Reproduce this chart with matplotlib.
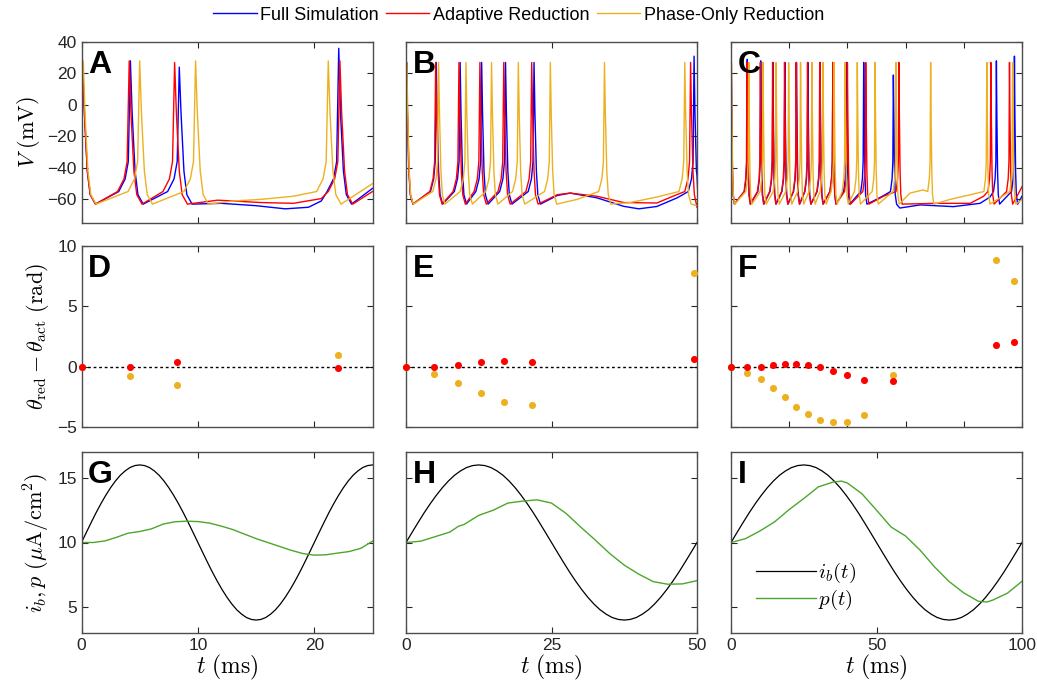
import numpy as np
import matplotlib
matplotlib.use("Agg")
import matplotlib.pyplot as plt
from matplotlib.lines import Line2D

plt.rcParams['font.family'] = ['Liberation Sans', 'DejaVu Sans']
plt.rcParams['mathtext.fontset'] = 'cm'

# ---------------- data ----------------
t_end = [25, 50, 100]

# voltage traces: spike times (ms), spike peaks (mV), extra baseline knots (t, V)
a_full_spk = [0.1, 4.2, 8.4, 22.1]
a_full_pk = [25, 28, 24, 36]
a_full_base = [(12.0, -62.5), (15.0, -64), (17.5, -66), (19.5, -65), (20.6, -61), (25, -53)]
a_adap_spk = [0.1, 4.1, 8.0, 22.2]
a_adap_pk = [27, 28, 27, 28]
a_adap_base = [(11.7, -60.5), (15.4, -62), (18.2, -62.5), (20.6, -59.5), (25, -55)]
a_phase_spk = [0.15, 5.0, 9.8, 21.2]
a_phase_pk = [28, 28, 28, 28]
a_phase_base = [(13.1, -61), (15.4, -60), (18.2, -58), (25, -50)]

b_full_spk = [0.1, 5.2, 9.3, 13.0, 17.1, 22.0, 49.5]
b_full_pk = [27, 27, 27, 27, 27, 27, 31]
b_full_base = [(26.0, -57.5), (28.2, -56), (32.8, -59), (37.4, -64.4), (40.0, -66),
               (43.1, -64.5), (46.6, -59), (50, -45)]
b_adap_spk = [0.1, 5.1, 9.1, 12.7, 16.8, 21.6, 48.9]
b_adap_pk = [27, 27, 27, 27, 27, 27, 27]
b_adap_base = [(26.0, -57), (28.2, -56), (32.8, -58), (37.4, -62), (43.1, -62.3),
               (46.2, -57.5), (50, -65)]
b_phase_spk = [0.15, 5.6, 10.3, 14.7, 19.3, 24.8, 34.1, 47.9]
b_phase_pk = [27, 27, 27, 27, 27, 27, 27, 27]
b_phase_base = [(29.4, -60), (38.5, -62), (43.1, -58.5), (50, -64)]

c_full_spk = [0.1, 5.6, 10.2, 14.4, 18.5, 22.5, 26.4, 30.6, 35.0, 39.7, 45.6, 55.8, 91.2, 97.4]
c_full_pk = [27, 29, 28, 27, 27, 27, 27, 27, 27, 27, 27, 19, 28, 31]
c_full_base = [(50.0, -60), (53.0, -57), (58.0, -65.5), (65.0, -63.5), (76.4, -64.6),
               (85.6, -62.5), (89.0, -58.5), (100, -58)]
c_adap_spk = [0.1, 5.5, 10.1, 14.3, 18.4, 22.4, 26.3, 30.5, 35.0, 40.0, 46.3, 57.7, 89.3, 95.7]
c_adap_pk = [27, 27, 27, 27, 27, 27, 27, 27, 27, 27, 27, 27, 27, 27]
c_adap_base = [(52.4, -58), (70.7, -62.5), (82.2, -62.5), (86.8, -58), (100, -52)]
c_phase_spk = [0.15, 6.1, 11.0, 15.5, 19.8, 23.9, 27.8, 31.6, 35.4, 39.2, 43.4, 49.5, 56.7,
               68.6, 87.9, 96.8]
c_phase_pk = [27] * 16
c_phase_base = [(61.5, -56), (66.0, -54), (75.3, -60), (82.2, -57), (85.6, -55.5), (100, -60)]

# phase differences theta_red - theta_act (rad) at spike times of full model
d_t = [0, 4.15, 8.2, 22.0]
d_adap = [0, 0.0, 0.4, -0.08]
d_phase = [0, -0.8, -1.55, 0.98]
e_t = [0, 4.87, 9.0, 12.9, 16.9, 21.7, 49.4]
e_adap = [0, -0.05, 0.14, 0.35, 0.49, 0.41, 0.63]
e_phase = [0, -0.62, -1.33, -2.17, -2.96, -3.2, 7.74]
f_t = [0, 5.6, 10.2, 14.4, 18.5, 22.5, 26.4, 30.6, 35.0, 39.7, 45.6, 55.8, 91.2, 97.4]
f_adap = [0, -0.05, 0.0, 0.1, 0.22, 0.24, 0.14, -0.05, -0.33, -0.73, -1.14, -1.2, 1.79, 2.07]
f_phase = [0, -0.49, -1.03, -1.74, -2.53, -3.32, -3.91, -4.38, -4.62, -4.59, -3.97, -0.68, 8.8, 7.07]

# input current i_b over one period (48 steps) and the adaptive parameter p
ib_cycle = [10.0, 10.78, 11.55, 12.30, 13.0, 13.65, 14.24, 14.76, 15.20, 15.54, 15.80, 15.95, 16.0,
            15.95, 15.80, 15.54, 15.20, 14.76, 14.24, 13.65, 13.0, 12.30, 11.55, 10.78, 10.0,
            9.22, 8.45, 7.70, 7.0, 6.35, 5.76, 5.24, 4.80, 4.46, 4.20, 4.05, 4.0,
            4.05, 4.20, 4.46, 4.80, 5.24, 5.76, 6.35, 7.0, 7.70, 8.45, 9.22, 10.0]
ib_a = ib_cycle + [10.78, 11.55, 12.30, 13.0, 13.65, 14.24, 14.76, 15.20, 15.54, 15.80, 15.95, 16.0]
ib_b = ib_cycle
ib_c = ib_cycle

g_t = [0, 1, 2, 3, 4, 5, 6, 7, 8, 9, 10, 11, 12, 13, 14, 15, 16, 17, 18, 19, 20, 21, 22, 23, 24, 25]
g_p = [10.0, 10.0, 10.12, 10.4, 10.72, 10.85, 11.05, 11.42, 11.6, 11.65, 11.62, 11.5, 11.27,
       11.0, 10.65, 10.3, 10.0, 9.7, 9.4, 9.15, 9.02, 9.05, 9.18, 9.3, 9.55, 10.1]
h_t = [0, 2.5, 5, 7.5, 9, 10, 12.5, 15, 17.5, 20, 22.5, 25, 27.5, 30, 32.5, 35, 37.5, 40,
       42.5, 45, 47.5, 50]
h_p = [10.0, 10.1, 10.45, 10.8, 11.25, 11.4, 12.1, 12.5, 13.05, 13.2, 13.3, 13.05, 12.25,
       11.2, 10.2, 9.15, 8.25, 7.55, 6.97, 6.77, 6.8, 7.05]
i_t = [0, 5, 10, 15, 20, 25, 30, 35, 38, 40, 45, 50, 55, 60, 65, 70, 75, 80, 85, 88, 90, 95, 100]
i_p = [10.0, 10.3, 10.9, 11.6, 12.55, 13.4, 14.3, 14.67, 14.75, 14.6, 13.77, 12.5, 11.2, 10.5,
       9.4, 8.1, 6.97, 6.1, 5.45, 5.4, 5.55, 6.08, 7.0]

# ---------------- style ----------------
c_full = '#0000ff'
c_adap = '#ff0000'
c_phase = '#edb120'
c_green = '#4ca62c'

SPIKE_SHAPE = [(-1.0, -55), (-0.45, -47), (-0.18, -36), (0.0, None), (0.15, -5),
               (0.4, -42), (0.65, -57), (1.1, -63)]


def trace(spk, pk, base, tmax, v0=5):
    pts = [(0.0, v0)] + list(base)
    for ts, p in zip(spk, pk):
        for dt, v in SPIKE_SHAPE:
            t = ts + dt
            if 0 < t <= tmax + 1:
                pts.append((t, p if v is None else v))
    pts.sort()
    return [q[0] for q in pts], [q[1] for q in pts]


fig = plt.figure(figsize=(10.37, 6.93), dpi=100)
lefts = [81.5, 406, 731]
bottoms = [223, 427, 633]
axes = [[fig.add_axes([l / 1037, 1 - b / 693, 291 / 1037, 181 / 693]) for l in lefts]
        for b in bottoms]

letters = 'ABCDEFGHI'
for r in range(3):
    for c in range(3):
        ax = axes[r][c]
        ax.set_xlim(0, t_end[c])
        ax.tick_params(direction='in', top=True, right=True, length=4, width=0.8,
                       labelsize=12.5, colors='#262626')
        for s in ax.spines.values():
            s.set_color('#4d4d4d')
            s.set_linewidth(1.0)
        ax.text(0.022, 0.955, letters[3 * r + c], transform=ax.transAxes, fontsize=23,
                fontweight='bold', va='top', ha='left')

traces = [
    [(a_full_spk, a_full_pk, a_full_base), (a_adap_spk, a_adap_pk, a_adap_base),
     (a_phase_spk, a_phase_pk, a_phase_base)],
    [(b_full_spk, b_full_pk, b_full_base), (b_adap_spk, b_adap_pk, b_adap_base),
     (b_phase_spk, b_phase_pk, b_phase_base)],
    [(c_full_spk, c_full_pk, c_full_base), (c_adap_spk, c_adap_pk, c_adap_base),
     (c_phase_spk, c_phase_pk, c_phase_base)],
]
for c in range(3):
    ax = axes[0][c]
    for (spk, pk, base), col in zip(traces[c], [c_full, c_adap, c_phase]):
        tt, vv = trace(spk, pk, base, t_end[c])
        ax.plot(tt, vv, color=col, lw=1.0)
    ax.set_ylim(-75, 40)
    ax.set_yticks([-60, -40, -20, 0, 20, 40])

scat = [(d_t, d_adap, d_phase), (e_t, e_adap, e_phase), (f_t, f_adap, f_phase)]
for c in range(3):
    ax = axes[1][c]
    tt, ad, ph = scat[c]
    ax.axhline(0, color='k', ls=(0, (2, 2)), lw=1.0)
    ax.scatter(tt, ph, s=26, color=c_phase, zorder=3, clip_on=False, linewidths=0)
    ax.scatter(tt, ad, s=26, color=c_adap, zorder=4, clip_on=False, linewidths=0)
    ax.set_ylim(-5, 10)
    ax.set_yticks([-5, 0, 5, 10])

ibs = [ib_a, ib_b, ib_c]
ps = [(g_t, g_p), (h_t, h_p), (i_t, i_p)]
for c in range(3):
    ax = axes[2][c]
    period = [20, 50, 100][c]
    tt = np.arange(len(ibs[c])) * period / 48
    ax.plot(tt, ibs[c], color='k', lw=0.9)
    ax.plot(ps[c][0], ps[c][1], color=c_green, lw=1.0)
    ax.set_ylim(3, 17)
    ax.set_yticks([5, 10, 15])

axes[0][0].set_xticks([0, 10, 20])
axes[0][1].set_xticks([0, 25, 50])
axes[0][2].set_xticks([0, 20, 40, 60, 80, 100])
axes[1][0].set_xticks([0, 10, 20])
axes[1][1].set_xticks([0, 25, 50])
axes[1][2].set_xticks([0, 20, 40, 60, 80, 100])
axes[2][0].set_xticks([0, 10, 20])
axes[2][1].set_xticks([0, 25, 50])
axes[2][2].set_xticks([0, 50, 100])

for r in range(3):
    for c in range(3):
        ax = axes[r][c]
        if r < 2:
            ax.set_xticklabels([])
        else:
            ax.set_xlabel(r'$t\ (\mathrm{ms})$', fontsize=17, labelpad=0)
        if c > 0:
            ax.set_yticklabels([])

axes[0][0].set_ylabel(r'$V\ (\mathrm{mV})$', fontsize=16)
axes[1][0].set_ylabel(r'$\theta_{\mathrm{red}} - \theta_{\mathrm{act}}\ (\mathrm{rad})$', fontsize=16)
axes[2][0].set_ylabel(r'$i_b, p\ (\mu\mathrm{A}/\mathrm{cm}^2)$', fontsize=16)

axes[2][2].legend([Line2D([], [], color='k', lw=0.9), Line2D([], [], color=c_green, lw=1.0)],
                  [r'$i_b(t)$', r'$p(t)$'], loc='lower left', bbox_to_anchor=(0.02, 0.01),
                  frameon=False, fontsize=15, handlelength=2.9, labelspacing=0.15,
                  handletextpad=0.1)

handles = [Line2D([], [], color=c_full, lw=1.0), Line2D([], [], color=c_adap, lw=1.0),
           Line2D([], [], color=c_phase, lw=1.0)]
fig.legend(handles, ['Full Simulation', 'Adaptive Reduction', 'Phase-Only Reduction'],
           loc='center', bbox_to_anchor=(0.5, 0.978), ncol=3, frameon=False,
           prop={'size': 13}, handlelength=2.4, columnspacing=0.4, handletextpad=0.2)

fig.savefig('out.png', dpi=100)
